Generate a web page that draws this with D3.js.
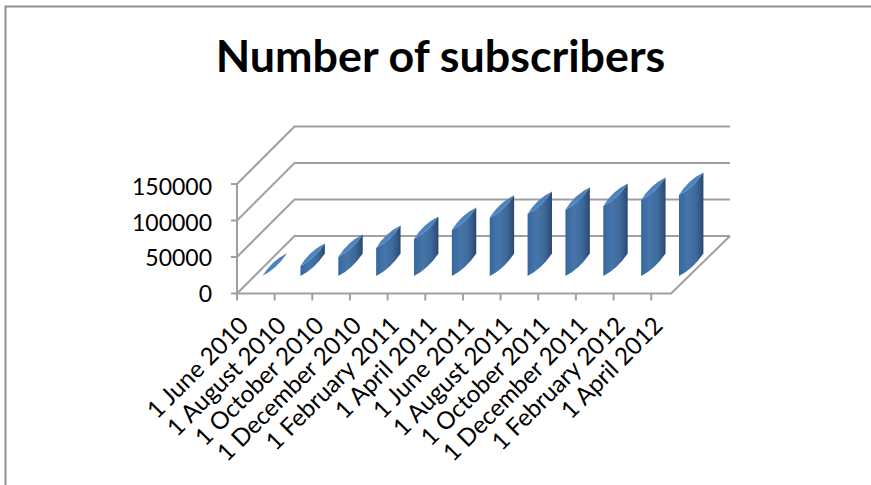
<!DOCTYPE html>
<html><head><meta charset="utf-8">
<script src="https://cdn.jsdelivr.net/npm/d3@7/dist/d3.min.js"></script>
<style>html,body{margin:0;padding:0;background:#fff;overflow:hidden}svg{display:block}text{font-family:Lato,"Open Sans",sans-serif;fill:#000}</style>
</head><body><svg id="c" width="871" height="485"></svg>
<script>
const categories=["1 June 2010","1 August 2010","1 October 2010","1 December 2010","1 February 2011","1 April 2011","1 June 2011","1 August 2011","1 October 2011","1 December 2011","1 February 2012","1 April 2012"];
const subscribers=[300,13700,26000,38500,50800,63000,79700,85000,90600,96000,104000,111000];
const yTicks=[0,50000,100000,150000];
const title="Number of subscribers";

const svg=d3.select("#c");
const grid="#a0a0a0";
const y=d3.scaleLinear().domain([0,150000]).range([293.5,184]);
const yLabel=d3.scaleLinear().domain([0,150000]).range([302,195]);
const xTick=d3.scaleLinear().domain([0,11]).range([237,651.2]);
const xBar=d3.scaleLinear().domain([0,11]).range([262.6,679]);
const depth={dx:57.5,dy:-57.5};
const floorRight=671,barW=24.4,barRise=22.5,barLift=17.5;

svg.append("path").attr("d","M5.5,485V6.5H871").attr("fill","none").attr("stroke","#8f8f8f").attr("stroke-width",2);
svg.append("text").attr("x",440.5).attr("y",72).attr("text-anchor","middle").attr("font-size",44.8).attr("font-weight",700).text(title);

const g=svg.append("g").attr("fill","none").attr("stroke",grid);
yTicks.forEach(t=>{
  g.append("path").attr("stroke-width",2).attr("d",`M${xTick(0)},${y(t)}L${xTick(0)+depth.dx},${y(t)+depth.dy}H730`);
  g.append("line").attr("stroke-width",2).attr("x1",xTick(0)-6).attr("x2",xTick(0)).attr("y1",y(t)).attr("y2",y(t));
  svg.append("text").attr("x",212).attr("y",yLabel(t)).attr("text-anchor","end").attr("font-size",23).text(d3.format("d")(t));
});
g.append("line").attr("stroke-width",2).attr("x1",xTick(0)).attr("x2",xTick(0)).attr("y1",y(150000)).attr("y2",y(0));
g.append("path").attr("stroke-width",2).attr("d",`M${xTick(0)},${y(0)}H${floorRight}L730,${y(0)+depth.dy}`);
categories.forEach((c,i)=>{
  g.append("line").attr("stroke-width",2).attr("x1",xTick(i)).attr("x2",xTick(i)).attr("y1",y(0)).attr("y2",y(0)+7);
  svg.append("text").attr("transform",`translate(${xTick(i)+13},${y(0)+33.5}) rotate(-45)`).attr("text-anchor","end").attr("font-size",24.2).text(c);
});

const defs=svg.append("defs");
const lg=defs.append("linearGradient").attr("id","body");
[[0,"#35679f"],[.35,"#4675a9"],[.65,"#3f6c9f"],[.85,"#345a87"],[1,"#2b466a"]].forEach(([o,c])=>lg.append("stop").attr("offset",o).attr("stop-color",c));
const tg=defs.append("linearGradient").attr("id","top");
[[0,"#4f86c3"],[1,"#4a7fb9"]].forEach(([o,c])=>tg.append("stop").attr("offset",o).attr("stop-color",c));

const bars=svg.append("g").selectAll("g").data(subscribers).join("g");
bars.each(function(v,i){
  const x0=xBar(i),yb=y(0)-barLift,h=y(0)-y(v),yt=yb-h,sel=d3.select(this);
  if(h>2) sel.append("path").attr("fill","url(#body)")
    .attr("d",`M${x0},${yt}Q${x0+14},${yt-7} ${x0+barW},${yt-barRise}V${yb-barRise}Q${x0+14},${yb-7} ${x0},${yb}Z`);
  sel.append("path").attr("fill","url(#top)")
    .attr("d",`M${x0},${yt}Q${x0+9},${yt-15} ${x0+barW},${yt-barRise}Q${x0+14},${yt-7} ${x0},${yt}Z`);
});
</script></body></html>
